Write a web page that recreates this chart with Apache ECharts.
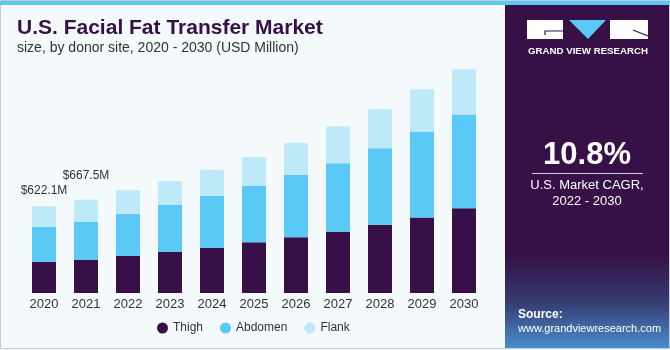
<!DOCTYPE html>
<html>
<head>
<meta charset="utf-8">
<script src="https://cdn.jsdelivr.net/npm/echarts@6/dist/echarts.min.js"></script>
<style>
  html, body { margin: 0; padding: 0; background: #f4f9fc; }
  #chart { width: 670px; height: 350px; }
</style>
</head>
<body>
<div id="chart"></div>
<script>
// 年份
const years = ['2020', '2021', '2022', '2023', '2024', '2025', '2026', '2027', '2028', '2029', '2030'];
// 各部位市场规模 (USD Million)
const thigh = [222, 239, 267, 296, 325, 363, 399, 439, 489, 540, 607];
const abdomen = [253, 272, 301, 335, 370, 403, 446, 490, 547, 616, 671];
const flank = [147.1, 156.5, 168, 172, 188, 208, 231, 265, 282, 304, 325];
const totalLabels = ['$622.1M', '$667.5M'];

const purple = '#371047';
const font = '"Liberation Sans", Arial, sans-serif';

const myEcharts = echarts.init(document.getElementById('chart'));

const flankData = flank.map((v, i) => {
  if (i < totalLabels.length) {
    return {
      value: v,
      label: {
        show: true,
        position: 'top',
        distance: i === 0 ? 9 : 18,
        formatter: totalLabels[i],
        color: '#333',
        fontSize: 12,
        fontFamily: font,
      },
    };
  }
  return v;
});

const option = {
  backgroundColor: '#f4f9fc',
  animation: false,
  title: [
    {
      text: 'U.S. Facial Fat Transfer Market',
      left: 12,
      top: 13,
      textStyle: { color: purple, fontSize: 21, fontWeight: 'bold', fontFamily: font },
    },
    {
      text: 'size, by donor site, 2020 - 2030 (USD Million)',
      left: 12,
      top: 36,
      textStyle: { color: '#333', fontSize: 14, fontWeight: 'normal', fontFamily: font },
    },
  ],
  legend: {
    left: 152,
    top: 317,
    icon: 'circle',
    itemWidth: 11,
    itemHeight: 11,
    itemGap: 17,
    textStyle: { color: '#333', fontSize: 12, fontFamily: font },
    data: ['Thigh', 'Abdomen', 'Flank'],
  },
  grid: {
    left: 23,
    right: 185,
    top: 60,
    bottom: 57,
  },
  xAxis: {
    type: 'category',
    data: years,
    axisLine: { show: false },
    axisTick: { show: false },
    axisLabel: { color: '#333', fontSize: 13, margin: 5, fontFamily: font },
  },
  yAxis: {
    type: 'value',
    min: 0,
    max: 1669,
    show: false,
  },
  series: [
    {
      name: 'Thigh',
      type: 'bar',
      stack: 'total',
      barWidth: 24,
      data: thigh,
      itemStyle: { color: purple },
    },
    {
      name: 'Abdomen',
      type: 'bar',
      stack: 'total',
      data: abdomen,
      itemStyle: { color: '#5bc9f6' },
    },
    {
      name: 'Flank',
      type: 'bar',
      stack: 'total',
      data: flankData,
      itemStyle: { color: '#bde9f9', borderRadius: [2, 2, 0, 0] },
    },
  ],
  graphic: [
    // 外框
    {
      type: 'rect',
      shape: { x: 0.5, y: 0.5, width: 669, height: 348 },
      style: { fill: 'none', stroke: '#c8cacc', lineWidth: 1 },
      z: 100,
    },
    // 顶部色条
    {
      type: 'rect',
      shape: { x: 0, y: 1, width: 670, height: 4 },
      style: { fill: '#5bc9f6' },
      z: 101,
    },
    // 右侧面板
    {
      type: 'rect',
      shape: { x: 505, y: 5, width: 165, height: 344 },
      style: {
        fill: new echarts.graphic.LinearGradient(0, 0, 0, 1, [
          { offset: 0, color: purple },
          { offset: 0.72, color: purple },
          { offset: 0.86, color: '#35396f' },
          { offset: 1, color: '#4a8fcf' },
        ]),
      },
      z: 99,
    },
    // logo
    {
      type: 'rect',
      shape: { x: 527, y: 20, width: 36, height: 19 },
      style: { fill: '#fff' },
      z: 102,
    },
    {
      type: 'polyline',
      shape: { points: [[563, 31], [545, 31], [545, 35]] },
      style: { stroke: purple, lineWidth: 1.2, fill: 'none' },
      z: 103,
    },
    {
      type: 'polygon',
      shape: { points: [[569, 20], [606, 20], [588, 39]] },
      style: { fill: '#5bc9f6' },
      z: 102,
    },
    {
      type: 'rect',
      shape: { x: 610, y: 20, width: 38, height: 19 },
      style: { fill: '#fff' },
      z: 102,
    },
    {
      type: 'line',
      shape: { x1: 633, y1: 30, x2: 648, y2: 36 },
      style: { stroke: purple, lineWidth: 1.2 },
      z: 103,
    },
    {
      type: 'text',
      x: 588,
      y: 51,
      style: {
        text: 'GRAND VIEW RESEARCH',
        fill: '#fff',
        font: 'bold 9.7px ' + font,
        align: 'center',
        verticalAlign: 'middle',
      },
      z: 103,
    },
    {
      type: 'text',
      x: 587,
      y: 155,
      style: {
        text: '10.8%',
        fill: '#fff',
        font: 'bold 31px ' + font,
        align: 'center',
        verticalAlign: 'middle',
      },
      z: 103,
    },
    {
      type: 'line',
      shape: { x1: 532, y1: 173.5, x2: 643, y2: 173.5 },
      style: { stroke: '#cfc6d6', lineWidth: 1 },
      z: 103,
    },
    {
      type: 'text',
      x: 587,
      y: 185,
      style: {
        text: 'U.S. Market CAGR,',
        fill: '#fff',
        font: '13px ' + font,
        align: 'center',
        verticalAlign: 'middle',
      },
      z: 103,
    },
    {
      type: 'text',
      x: 587,
      y: 201,
      style: {
        text: '2022 - 2030',
        fill: '#fff',
        font: '13px ' + font,
        align: 'center',
        verticalAlign: 'middle',
      },
      z: 103,
    },
    {
      type: 'text',
      x: 518,
      y: 315,
      style: {
        text: 'Source:',
        fill: '#fff',
        font: 'bold 12px ' + font,
        verticalAlign: 'middle',
      },
      z: 103,
    },
    {
      type: 'text',
      x: 518,
      y: 329,
      style: {
        text: 'www.grandviewresearch.com',
        fill: '#fff',
        font: '11px ' + font,
        verticalAlign: 'middle',
      },
      z: 103,
    },
  ],
};

myEcharts.setOption(option);
</script>
</body>
</html>
